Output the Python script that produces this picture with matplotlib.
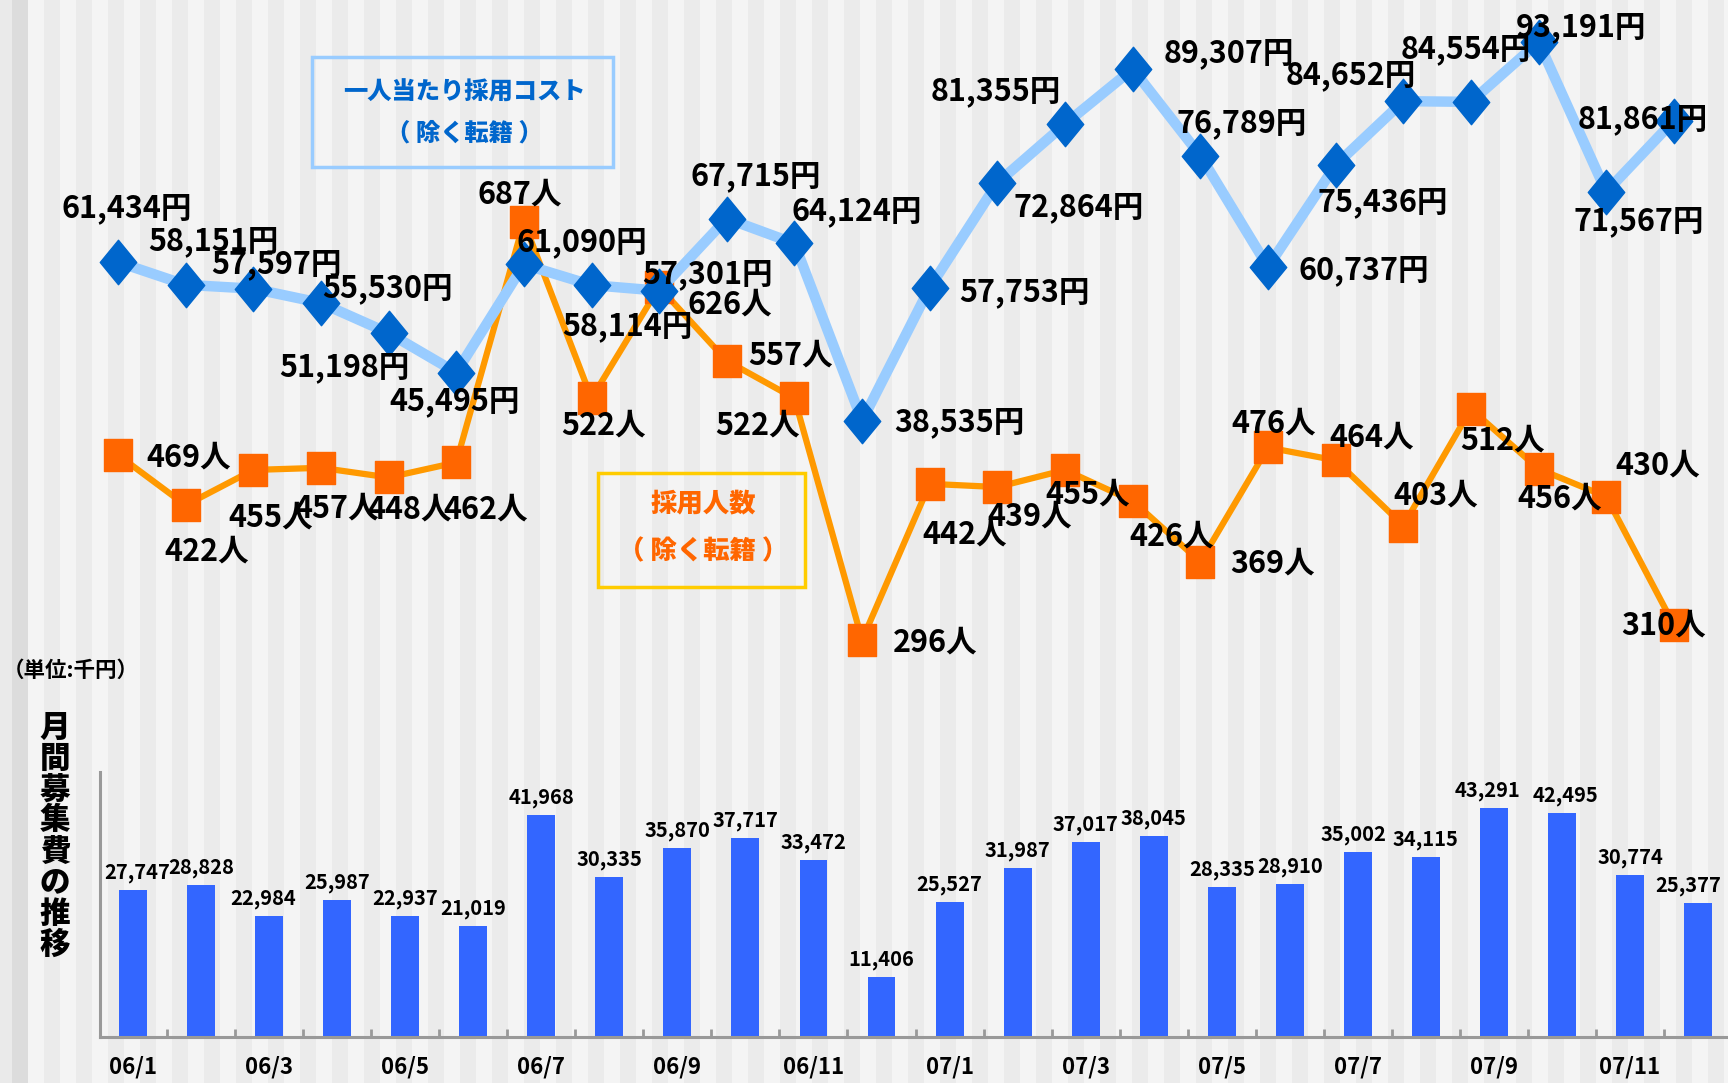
import numpy as np
import matplotlib
matplotlib.use('Agg')
import matplotlib.pyplot as plt
from matplotlib.path import Path
from matplotlib.patches import Rectangle

# ---- data ----
months = ['06/%d' % m for m in range(1, 13)] + ['07/%d' % m for m in range(1, 13)]
tick_labels = months[::2]
cost = [61434, 58151, 57597, 55530, 51198, 45495, 61090, 58114, 57301, 67715, 64124, 38535,
        57753, 72864, 81355, 89307, 76789, 60737, 75436, 84652, 84554, 93191, 71567, 81861]
hires = [469, 422, 455, 457, 448, 462, 687, 522, 626, 557, 522, 296,
         442, 439, 455, 426, 369, 476, 464, 403, 512, 456, 430, 310]
spend = [27747, 28828, 22984, 25987, 22937, 21019, 41968, 30335, 35870, 37717, 33472, 11406,
         25527, 31987, 37017, 38045, 28335, 28910, 35002, 34115, 43291, 42495, 30774, 25377]

# label offsets from the marker, in pixels (dx right, dy down)
cost_off = [(9, -54), (28, -44), (23, -24), (67, -15), (-44, 34), (-2, 29), (58, -22), (36, 41),
            (48, -17), (29, -42), (62, -32), (97, 1), (95, 5), (81, 24), (-69, -33), (96, -16),
            (41, -32), (96, 3), (47, 37), (-53, -26), (-5, -53), (42, -15), (32, 29), (-31, -1)]
hire_off = [(71, 3), (21, 46), (17, 48), (16, 41), (21, 32), (29, 47), (-4, -27), (12, 27),
            (71, 17), (64, -5), (-37, 27), (73, 3), (35, 51), (32, 29), (23, 25), (39, 36),
            (72, 2), (6, -24), (36, -23), (32, -30), (32, 32), (21, 30), (51, -31), (-10, 1)]
bar_dx = [4, 0, -6, 0, 0, 0, 0, 0, 0, 0, 0, 0, 0, 0, 0, 0, 0, 0, -4, 0, -6, 4, 0, -10]

W, H = 1728, 1083
def fx(px):
    return px / W
def fy(py):
    return 1 - py / H

NUM = ['Noto Sans CJK JP', 'DejaVu Sans']
CJK = ['Noto Sans CJK JP', 'DejaVu Sans']

fig = plt.figure(figsize=(W / 100, H / 100), dpi=100)

# ---- striped background ----
bg = fig.add_axes([0, 0, 1, 1], zorder=-10)
cols = np.ones((1, W, 3)) * 0.92
xs = np.arange(W)
light = ((xs - 28) // 16) % 2 == 0
cols[0, light] = 0.957
cols[0, ~light] = 0.925
cols[0, :12] = 0.92
cols[0, 12:28] = 0.865
bg.imshow(cols, aspect='auto', extent=[0, 1, 0, 1])
bg.axis('off')

# ---- line charts ----
diamond = Path([(0, 1), (0.82, 0), (0, -1), (-0.82, 0), (0, 1)], closed=True)
square = Path([(-0.85, -1), (0.85, -1), (0.85, 1), (-0.85, 1), (-0.85, -1)], closed=True)

rect_top = [0, fy(680), 1, 680 / H]
ax2 = fig.add_axes(rect_top)
ax = fig.add_axes(rect_top)
for a in (ax, ax2):
    a.set_xlim(-1.744, 23.80)
    a.axis('off')
    a.patch.set_alpha(0)
ax.set_ylim(1128, 99252)
ax2.set_ylim(258.5, 894.6)
x = np.arange(len(months))

ax2.plot(x, hires, color='#FF9900', lw=4.5, zorder=2, clip_on=False)
ax2.plot(x, hires, ls='none', marker=square, ms=23, color='#FF6600', zorder=3, clip_on=False)
ax.plot(x, cost, color='#99CCFF', lw=7.5, zorder=2, clip_on=False)
ax.plot(x, cost, ls='none', marker=diamond, ms=32, color='#0066CC', zorder=3, clip_on=False)

for i, v in enumerate(cost):
    dx, dy = cost_off[i]
    ax.annotate('{:,}円'.format(v), (i, v), xytext=(dx, -dy), textcoords='offset pixels',
                ha='center', va='center', fontsize=22, fontweight='bold', family=NUM,
                zorder=6, annotation_clip=False)
for i, v in enumerate(hires):
    dx, dy = hire_off[i]
    ax.annotate('{}人'.format(v), (i, v), xycoords=ax2.transData, xytext=(dx, -dy),
                textcoords='offset pixels', ha='center', va='center', fontsize=22,
                fontweight='bold', family=NUM, zorder=6, annotation_clip=False)

# ---- legend boxes ----
fig.add_artist(Rectangle((fx(312), fy(167)), (613 - 312) / W, (167 - 57) / H,
                         transform=fig.transFigure, fill=False, ec='#99CCFF', lw=2.5))
fig.text(fx(464), fy(92), '一人当たり採用コスト', ha='center', va='center', color='#0066CC',
         fontsize=17.5, fontweight='black', family=CJK)
fig.text(fx(464), fy(133), '（ 除く転籍 ）', ha='center', va='center', color='#0066CC',
         fontsize=17.5, fontweight='black', family=CJK)

fig.add_artist(Rectangle((fx(598), fy(587)), (805 - 598) / W, (587 - 473) / H,
                         transform=fig.transFigure, fill=False, ec='#FFCC00', lw=2.5))
fig.text(fx(703), fy(503), '採用人数', ha='center', va='center', color='#FF6600',
         fontsize=19, fontweight='black', family=CJK)
fig.text(fx(703), fy(551), '（ 除く転籍 ）', ha='center', va='center', color='#FF6600',
         fontsize=19, fontweight='black', family=CJK)

# ---- bar chart ----
axb = fig.add_axes([fx(100), 1 - 1037 / H, (W - 100) / W, (1037 - 772) / H])
axb.patch.set_alpha(0)
axb.bar(x, spend, width=0.41, color='#3366FF', zorder=2)
axb.set_xlim(-0.485, 23.44)
axb.set_ylim(0, 50189)
for s in ('top', 'right'):
    axb.spines[s].set_visible(False)
for s in ('left', 'bottom'):
    axb.spines[s].set_color('#999999')
    axb.spines[s].set_linewidth(2.2)
axb.set_yticks([])
axb.set_xticks(x[::2])
axb.set_xticklabels(tick_labels, fontsize=16, fontweight='bold', family=NUM)
axb.tick_params(axis='x', which='major', length=0, pad=13)
axb.set_xticks(np.arange(0.5, 23, 1), minor=True)
axb.tick_params(axis='x', which='minor', direction='in', length=6, width=2, color='#999999')
for i, v in enumerate(spend):
    axb.annotate('{:,}'.format(v), (i, v), xytext=(bar_dx[i], 7), textcoords='offset pixels',
                 ha='center', va='bottom', fontsize=14.5, fontweight='bold', family=NUM,
                 annotation_clip=False)

# ---- side texts ----
fig.text(fx(3), fy(670), '（単位:千円）', ha='left', va='center', fontsize=15.5,
         fontweight='bold', family=CJK)
for k, ch in enumerate('月間募集費の推移'):
    fig.text(fx(55), fy(727 + k * 31), ch, ha='center', va='center', fontsize=22,
             fontweight='black', family=CJK)

fig.savefig('out.png', dpi=100)
